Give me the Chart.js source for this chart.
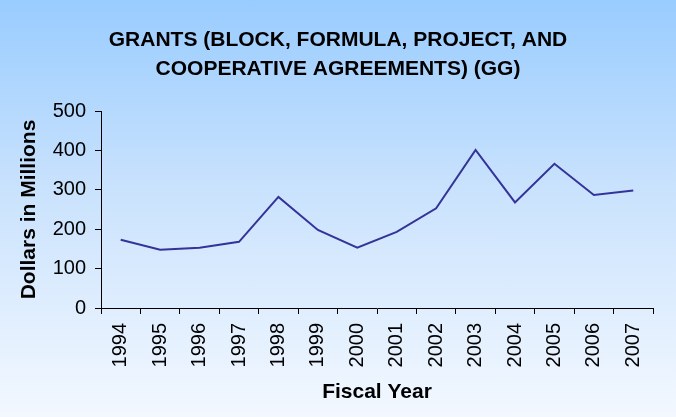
<!DOCTYPE html>
<html>
<head>
<meta charset="utf-8">
<script src="https://cdn.jsdelivr.net/npm/chart.js@4"></script>
<style>
  body { margin: 0; }
  #wrap {
    width: 676px; height: 417px;
    background: linear-gradient(to bottom, #99ccff 0%, #c9e2fd 45%, #f3f8ff 100%);
  }
</style>
</head>
<body>
<div id="wrap"><canvas id="grants" width="676" height="417"></canvas></div>
<script>
const years = ['1994', '1995', '1996', '1997', '1998', '1999', '2000',
               '2001', '2002', '2003', '2004', '2005', '2006', '2007'];
const grants = [173, 148, 153, 168, 282, 198, 153, 193, 253, 401, 268, 366, 287, 298];
const yTicks = [0, 100, 200, 300, 400, 500];

const font = 'Liberation Sans, Arial, sans-serif';

document.addEventListener('DOMContentLoaded', () => {
  const ctx = document.getElementById('grants').getContext('2d');
  new Chart(ctx, {
    type: 'line',
    data: {
      labels: years,
      datasets: [{
        data: grants,
        borderColor: '#333399',
        borderWidth: 2,
        pointRadius: 0,
        tension: 0,
        fill: false
      }]
    },
    options: {
      responsive: false,
      animation: false,
      layout: { padding: 0 },
      plugins: {
        legend: { display: false },
        tooltip: { enabled: false },
        title: {
          display: true,
          text: ['GRANTS (BLOCK, FORMULA, PROJECT, AND', 'COOPERATIVE AGREEMENTS) (GG)'],
          color: '#000',
          font: { family: font, size: 21, weight: 'bold', lineHeight: 29 / 21 },
          padding: { top: 26, bottom: 27 }
        }
      },
      scales: {
        x: {
          offset: true,
          grid: { offset: true, drawOnChartArea: false, tickLength: 6, color: '#000' },
          border: { color: '#000' },
          ticks: {
            color: '#000',
            font: { family: font, size: 20 },
            minRotation: 90,
            maxRotation: 90,
            autoSkip: false,
            padding: 9
          },
          title: {
            display: true,
            text: 'Fiscal Year',
            color: '#000',
            font: { family: font, size: 21, weight: 'bold' },
            padding: { top: 6, bottom: 12 }
          },
          afterFit: (scale) => { scale.height = 109; }
        },
        y: {
          min: 0,
          max: 500,
          afterBuildTicks: (scale) => { scale.ticks = yTicks.map(v => ({ value: v })); },
          grid: { drawOnChartArea: false, tickLength: 6, color: '#000' },
          border: { color: '#000' },
          ticks: {
            color: '#000',
            font: { family: font, size: 20 },
            padding: 9
          },
          title: {
            display: true,
            text: 'Dollars in Millions',
            color: '#000',
            font: { family: font, size: 21, weight: 'bold' },
            padding: { top: 17, bottom: 4 }
          },
          afterFit: (scale) => { scale.width = 101; }
        },
        // empty right-hand axis: keeps the plot clear of the right edge
        yRight: {
          position: 'right',
          display: true,
          grid: { display: false },
          border: { display: false },
          ticks: { display: false },
          afterFit: (scale) => { scale.width = 23; }
        }
      }
    }
  });
});
</script>
</body>
</html>
